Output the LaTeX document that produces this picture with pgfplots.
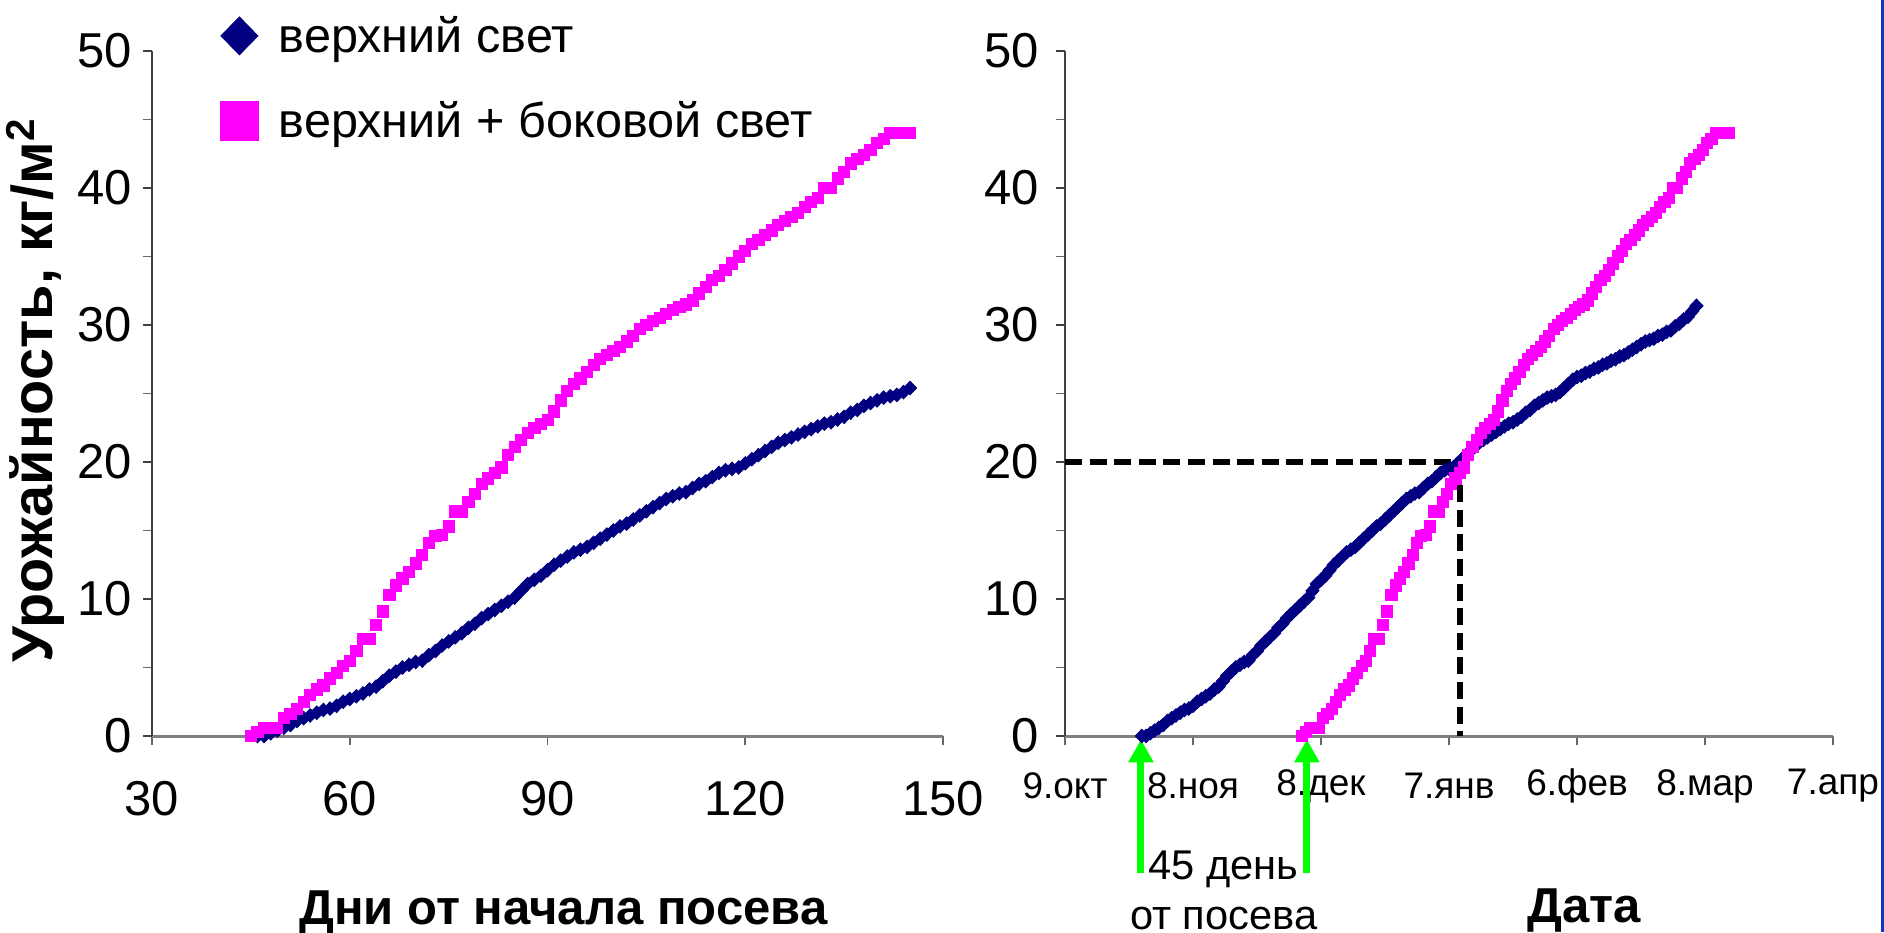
\documentclass[border=0pt]{standalone}
\usepackage{fontspec}
\setmainfont{Liberation Sans}
\usepackage{pgfplots}
\pgfplotsset{compat=1.18}
\usepackage{pgfplotstable}
\usetikzlibrary{arrows.meta}

\definecolor{navyb}{RGB}{0,0,128}
\definecolor{mag}{RGB}{255,0,255}
\definecolor{lgreen}{RGB}{0,255,0}
\definecolor{bord}{RGB}{20,50,200}

% magenta: days from sowing, yield
\pgfplotstableread[row sep=\\]{
d v\\
45 0\\ 46 0.3\\ 47 0.6\\ 48 0.6\\ 49 0.6\\ 50 1.3\\ 51 1.6\\ 52 2.0\\ 53 2.5\\ 54 3.0\\
55 3.4\\ 56 3.7\\ 57 4.2\\ 58 4.6\\ 59 5.1\\ 60 5.5\\ 61 6.2\\ 62 7.1\\ 63 7.1\\ 64 8.1\\
65 9.1\\ 66 10.3\\ 67 11.0\\ 68 11.5\\ 69 12.0\\ 70 12.6\\ 71 13.2\\ 72 14.1\\ 73 14.6\\ 74 14.7\\
75 15.3\\ 76 16.4\\ 77 16.4\\ 78 17.1\\ 79 17.7\\ 80 18.4\\ 81 18.8\\ 82 19.2\\ 83 19.6\\ 84 20.5\\
85 21.1\\ 86 21.6\\ 87 22.1\\ 88 22.5\\ 89 22.8\\ 90 23.1\\ 91 23.7\\ 92 24.5\\ 93 25.2\\ 94 25.7\\
95 26.1\\ 96 26.6\\ 97 27.1\\ 98 27.5\\ 99 27.8\\ 100 28.1\\ 101 28.4\\ 102 28.8\\ 103 29.2\\ 104 29.7\\
105 30.0\\ 106 30.3\\ 107 30.5\\ 108 30.8\\ 109 31.1\\ 110 31.3\\ 111 31.5\\ 112 31.8\\ 113 32.3\\ 114 32.8\\
115 33.3\\ 116 33.6\\ 117 34.0\\ 118 34.5\\ 119 35.0\\ 120 35.4\\ 121 35.9\\ 122 36.2\\ 123 36.6\\ 124 36.9\\
125 37.3\\ 126 37.6\\ 127 37.9\\ 128 38.2\\ 129 38.6\\ 130 39.0\\ 131 39.3\\ 132 40.0\\ 133 40.0\\ 134 40.7\\
135 41.2\\ 136 41.8\\ 137 42.1\\ 138 42.4\\ 139 42.8\\ 140 43.3\\ 141 43.6\\ 142 44.0\\ 143 44.0\\ 144 44.0\\
145 44.0\\
}\magdata

% navy: days from sowing, yield
\pgfplotstableread[row sep=\\]{
d v\\
46 0\\ 47 0\\ 48 0.2\\ 49 0.4\\ 50 0.6\\ 51 0.8\\ 52 1.1\\ 53 1.3\\ 54 1.5\\
55 1.7\\ 56 1.9\\ 57 2.0\\ 58 2.2\\ 59 2.5\\ 60 2.7\\ 61 2.9\\ 62 3.1\\ 63 3.4\\ 64 3.6\\
65 4.0\\ 66 4.4\\ 67 4.7\\ 68 5.0\\ 69 5.2\\ 70 5.4\\ 71 5.5\\ 72 5.9\\ 73 6.2\\ 74 6.6\\
75 6.9\\ 76 7.2\\ 77 7.5\\ 78 7.9\\ 79 8.2\\ 80 8.6\\ 81 8.9\\ 82 9.2\\ 83 9.5\\ 84 9.8\\
85 10.1\\ 86 10.6\\ 87 11.1\\ 88 11.4\\ 89 11.7\\ 90 12.1\\ 91 12.5\\ 92 12.8\\ 93 13.1\\ 94 13.4\\
95 13.6\\ 96 13.8\\ 97 14.1\\ 98 14.4\\ 99 14.7\\ 100 15.0\\ 101 15.3\\ 102 15.5\\ 103 15.8\\ 104 16.1\\
105 16.4\\ 106 16.7\\ 107 17.0\\ 108 17.3\\ 109 17.5\\ 110 17.7\\ 111 17.8\\ 112 18.1\\ 113 18.4\\ 114 18.6\\
115 18.9\\ 116 19.2\\ 117 19.4\\ 118 19.5\\ 119 19.6\\ 120 19.9\\ 121 20.2\\ 122 20.5\\ 123 20.8\\ 124 21.1\\
125 21.4\\ 126 21.6\\ 127 21.8\\ 128 22.0\\ 129 22.2\\ 130 22.4\\ 131 22.6\\ 132 22.8\\ 133 22.9\\ 134 23.1\\
135 23.3\\ 136 23.6\\ 137 23.8\\ 138 24.1\\ 139 24.3\\ 140 24.5\\ 141 24.7\\ 142 24.8\\ 143 24.9\\ 144 25.1\\
145 25.4\\ 146 25.7\\ 147 26.0\\ 148 26.2\\ 149 26.3\\ 150 26.5\\ 151 26.6\\ 152 26.8\\ 153 26.9\\ 154 27.1\\
155 27.2\\ 156 27.4\\ 157 27.5\\ 158 27.7\\ 159 27.8\\ 160 28.0\\ 161 28.2\\ 162 28.4\\ 163 28.6\\ 164 28.8\\
165 28.9\\ 166 29.0\\ 167 29.2\\ 168 29.3\\ 169 29.5\\ 170 29.6\\ 171 29.9\\ 172 30.1\\ 173 30.4\\ 174 30.6\\
175 31.0\\ 176 31.4\\
}\navydata

\pgfplotsset{
  common/.style={
    scale only axis,
    height=342.5pt,
    ymin=0, ymax=50,
    ytick={0,10,...,50},
    minor ytick={5,15,...,45},
    axis x line*=bottom, axis y line*=left,
    x axis line style={draw=gray, line width=1.5pt},
    y axis line style={draw=black!75, line width=0.6pt},
    tick align=outside,
    major tick length=4.5pt, minor tick length=4.5pt,
    x tick style={draw=black!60, line width=0.8pt},
    y tick style={draw=black!75, line width=0.6pt},
    minor y tick style={draw=black!60, line width=0.6pt},
    /pgf/number format/assume math mode=true,
    yticklabel style={font=\fontsize{24.5}{29}\selectfont, anchor=east, inner sep=0pt},
    clip=false,
  },
  navymark/.style={only marks, mark=diamond*, mark size=3.4pt, mark options={xscale=1.3, draw=navyb, fill=navyb}, color=navyb},
  magmark/.style={only marks, mark=square*, mark size=2.8pt, mark options={draw=mag, fill=mag}, color=mag},
}

\begin{document}
\begin{tikzpicture}[x=1pt,y=1pt]
\path[use as bounding box] (0,0) rectangle (942,466);
\fill[bord] (940.5,0) rectangle (942,466);

% ---------- left axis ----------
\begin{axis}[common,
  at={(76pt,98pt)}, anchor=south west,
  width=395.5pt,
  xmin=30, xmax=150,
  xtick={30,60,...,150},
  xticklabel style={font=\fontsize{24.5}{29}\selectfont, anchor=center, yshift=-27pt},
  yticklabel style={xshift=-5.5pt},
  xlabel={\bfseries Дни от начала посева},
  xlabel style={font=\fontsize{24.5}{29}\selectfont, at={(axis description cs:0.52,-0.258)}, anchor=center},
  ylabel={\bfseries Урожайность, кг/м\textsuperscript{2}},
  ylabel style={font=\fontsize{28.8}{34}\selectfont, at={(axis description cs:-0.147,0.505)}, anchor=center},
  legend style={at={(axis description cs:0.0855,1.057)}, anchor=north west, draw=none, fill=none,
    font=\fontsize{24.3}{29}\selectfont, row sep=19pt, column sep=8pt, inner sep=0pt,
    nodes={inner sep=2pt}},
  legend cell align=left,
]
\addplot[navymark, restrict x to domain=40:145.5, legend image post style={mark size=9.5pt}] table[x=d,y=v] {\navydata};
\addlegendentry{верхний свет}
\addplot[magmark, legend image post style={mark size=9.7pt}] table[x=d,y=v] {\magdata};
\addlegendentry{верхний + боковой свет}
\end{axis}

% ---------- right axis ----------
\begin{axis}[common,
  at={(532.5pt,98pt)}, anchor=south west,
  width=384pt,
  xmin=0, xmax=180,
  xtick={0,30,...,180},
  xticklabels={9.окт,8.ноя,8.дек,7.янв,6.фев,8.мар,7.апр},
  xticklabel style={font=\fontsize{18.5}{22}\selectfont, anchor=center, yshift=-20.5pt},
  yticklabel style={xshift=-8.5pt},
  xlabel={\bfseries Дата},
  xlabel style={font=\fontsize{24.5}{29}\selectfont, at={(axis description cs:0.676,-0.255)}, anchor=center},
]
\addplot[black, line width=3pt, dash pattern=on 8.5pt off 3.8pt, forget plot] coordinates {(0,20) (92.6,20) (92.6,0)};
\addplot[navymark] table[x expr=\thisrow{d}-28, y=v] {\navydata};
\addplot[magmark] table[x expr=\thisrow{d}+10.5, y=v] {\magdata};

\draw[lgreen, line width=3.5pt, -{Triangle[width=12pt,length=11.5pt]}] (axis cs:17.8,-10) -- (axis cs:17.8,-0.25);
\draw[lgreen, line width=3.5pt, -{Triangle[width=12pt,length=11.5pt]}] (axis cs:56.7,-10) -- (axis cs:56.7,-0.25);
\node[font=\fontsize{20.8}{24}\selectfont, anchor=base] at (axis cs:37.2,-10.44) {45 день};
\node[font=\fontsize{20.8}{24}\selectfont, anchor=base] at (axis cs:37.2,-14.16) {от посева};
\end{axis}
\end{tikzpicture}
\end{document}
